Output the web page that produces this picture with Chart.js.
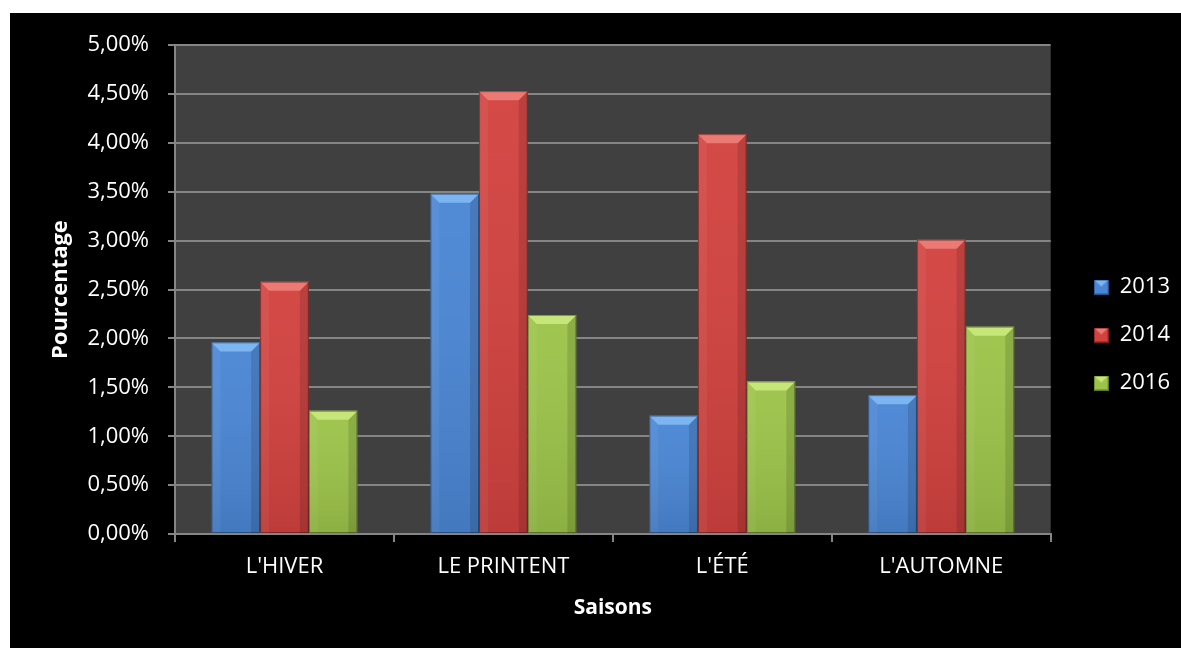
<!DOCTYPE html>
<html>
<head>
<meta charset="utf-8">
<script src="https://cdn.jsdelivr.net/npm/chart.js@4.4.1/dist/chart.umd.min.js"></script>
<style>
  body { margin: 0; background: #fff; }
  #wrap { position: absolute; left: 10px; top: 13px; width: 1171px; height: 635px; background: #000; }
</style>
</head>
<body>
<div id="wrap"><canvas id="saisons" width="1171" height="635"></canvas></div>
<script>
// seasonal percentages per year
const seasons = ["L'HIVER", 'LE PRINTENT', "L'ÉTÉ", "L'AUTOMNE"];
const years = ['2013', '2014', '2016'];
const pct2013 = [1.96, 3.48, 1.21, 1.42];
const pct2014 = [2.58, 4.53, 4.09, 3.01];
const pct2016 = [1.26, 2.24, 1.56, 2.12];
const yMax = 5;
const yStep = 0.5;

const faceColors = ['#4a86d4', '#d2423f', '#9cc349'];
const topColors  = ['#7db4f2', '#ec7a74', '#c7e67a'];
const edgeColors = ['#23508e', '#7e1d1b', '#5b7a22'];

const gridGray = '#858585';
const font = 'Open Sans';

// small bevelled square used as the legend marker
function legendIcon(i) {
  const c = document.createElement('canvas');
  c.width = 15; c.height = 15;
  const g = c.getContext('2d');
  g.fillStyle = faceColors[i];
  g.fillRect(0, 0, 15, 15);
  g.fillStyle = topColors[i];
  g.beginPath();
  g.moveTo(0, 0); g.lineTo(15, 0); g.lineTo(7.5, 7); g.closePath();
  g.fill();
  g.strokeStyle = edgeColors[i];
  g.lineWidth = 1;
  g.strokeRect(0.5, 0.5, 14, 14);
  return c;
}

// dark plot background
const plotBg = {
  id: 'plotBg',
  beforeDraw(chart) {
    const {ctx, chartArea: a} = chart;
    ctx.save();
    ctx.fillStyle = '#404040';
    ctx.fillRect(a.left, a.top, a.right - a.left, a.bottom - a.top);
    ctx.restore();
  }
};

// bevel shading on top of every bar
const bevel = {
  id: 'bevel',
  afterDatasetsDraw(chart) {
    const ctx = chart.ctx;
    chart.data.datasets.forEach((ds, i) => {
      chart.getDatasetMeta(i).data.forEach(bar => {
        const {x, y, base, width} = bar.getProps(['x', 'y', 'base', 'width'], true);
        const l = x - width / 2, r = x + width / 2;
        const d = Math.min(9, (base - y) / 2);
        ctx.save();
        // vertical shading: darker toward the bottom
        const vg = ctx.createLinearGradient(0, y, 0, base);
        vg.addColorStop(0, 'rgba(255,255,255,0.04)');
        vg.addColorStop(1, 'rgba(0,0,0,0.10)');
        ctx.fillStyle = vg;
        ctx.fillRect(l, y, width, base - y);
        // side faces
        ctx.fillStyle = 'rgba(255,255,255,0.05)';
        ctx.beginPath();
        ctx.moveTo(l, y); ctx.lineTo(l + d, y + d); ctx.lineTo(l + d, base); ctx.lineTo(l, base);
        ctx.closePath(); ctx.fill();
        ctx.fillStyle = 'rgba(0,0,0,0.12)';
        ctx.beginPath();
        ctx.moveTo(r, y); ctx.lineTo(r - d, y + d); ctx.lineTo(r - d, base); ctx.lineTo(r, base);
        ctx.closePath(); ctx.fill();
        // top face
        ctx.fillStyle = topColors[i];
        ctx.beginPath();
        ctx.moveTo(l, y); ctx.lineTo(r, y); ctx.lineTo(r - d, y + d); ctx.lineTo(l + d, y + d);
        ctx.closePath(); ctx.fill();
        // outline
        ctx.strokeStyle = 'rgba(0,0,0,0.35)';
        ctx.lineWidth = 1;
        ctx.strokeRect(l + 0.5, y + 0.5, width - 1, base - y - 1);
        ctx.restore();
      });
    });
  }
};

// nudge the legend next to the plot, as in the workbook layout
const legendNudge = {
  id: 'legendNudge',
  afterLayout(chart) {
    const lg = chart.legend;
    lg.left += 17; lg.right += 17;
    lg.top -= 10; lg.bottom -= 10;
  }
};

const series = [pct2013, pct2014, pct2016];

new Chart(document.getElementById('saisons').getContext('2d'), {
  type: 'bar',
  data: {
    labels: seasons,
    datasets: years.map((yr, i) => ({
      label: yr,
      data: series[i],
      backgroundColor: faceColors[i],
      borderWidth: 0,
      pointStyle: legendIcon(i),
      categoryPercentage: 0.667,
      barPercentage: 1.0
    }))
  },
  options: {
    responsive: false,
    animation: false,
    layout: { padding: { top: 29, right: 18, left: 0, bottom: 0 } },
    plugins: {
      tooltip: { enabled: false },
      legend: {
        position: 'right',
        labels: {
          color: '#fff',
          font: { family: font, size: 22 },
          usePointStyle: true,
          boxWidth: 15,
          boxHeight: 15,
          padding: 26
        }
      }
    },
    scales: {
      x: {
        grid: { display: true, drawOnChartArea: false, offset: true, tickLength: 8, color: gridGray, lineWidth: 2 },
        border: { color: gridGray, width: 2 },
        ticks: { color: '#fff', font: { family: font, size: 22 }, padding: 12, maxRotation: 0 },
        title: {
          display: true, text: 'Saisons', color: '#fff',
          font: { family: font, size: 21, weight: 'bold' },
          padding: { top: 0, bottom: 27 }
        },
        afterFit(scale) { scale.height = 114; }
      },
      y: {
        min: 0,
        max: yMax,
        grid: { color: gridGray, lineWidth: 2, tickLength: 7 },
        border: { color: gridGray, width: 2 },
        ticks: {
          stepSize: yStep,
          color: '#fff',
          font: { family: font, size: 22 },
          padding: 19,
          callback: v => v.toFixed(2).replace('.', ',') + '%'
        },
        title: {
          display: true, text: 'Pourcentage', color: '#fff',
          font: { family: font, size: 22, weight: 'bold' },
          padding: { top: 38, bottom: 0 }
        },
        afterFit(scale) { scale.width = 165; }
      }
    }
  },
  plugins: [plotBg, bevel, legendNudge]
});
</script>
</body>
</html>
